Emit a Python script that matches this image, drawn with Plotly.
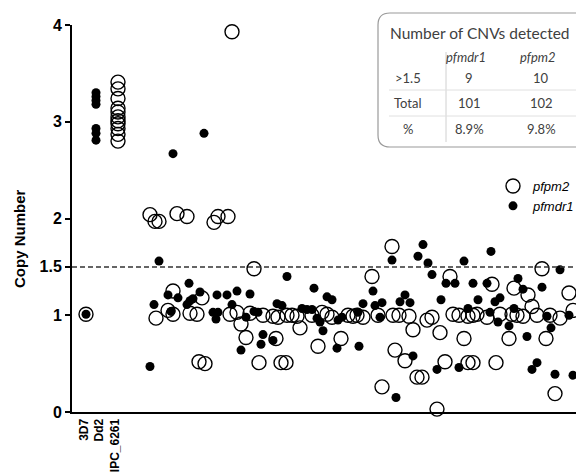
import plotly.graph_objects as go

# ---- data ----
categories = ["3D7", "Dd2", "IPC_6261"]
category_pos = [12, 27, 43]

# control samples
ctrl_pfpm2_x = [14] + [46] * 11
ctrl_pfpm2_y = [1.01, 3.41, 3.34, 3.24, 3.14, 3.10, 3.05, 3.01, 2.98, 2.93, 2.87, 2.80]
ctrl_pfmdr1_x = [14] + [24] * 7
ctrl_pfmdr1_y = [1.01, 3.30, 3.26, 3.22, 3.18, 2.93, 2.88, 2.81]

# field samples (sample position, copy number)
field_pfpm2_x = [160, 78, 83, 87, 105, 115, 142, 146, 156, 182, 101, 130, 96, 84, 101, 118, 125, 158,
                 165, 169, 174, 127, 133, 178, 191, 201, 206, 204, 187, 209, 214, 215, 220, 225, 240,
                 250, 255, 260, 276, 281, 285, 228, 269, 246, 291, 300, 306, 320, 321, 327, 337, 341,
                 323, 333, 345, 350, 310, 365, 355, 360, 368, 373, 378, 381, 387, 392, 396, 401, 396,
                 401, 405, 415, 428, 440, 445, 451, 465, 478, 488, 420, 424, 437, 442, 456, 460, 470,
                 474, 483, 497, 501]
field_pfpm2_y = [3.93, 2.04, 1.97, 1.97, 2.05, 2.02, 1.96, 2.02, 2.02, 1.48, 1.25, 1.18, 1.05, 0.97, 1.01,
                 1.02, 1.01, 1.01, 1.03, 0.91, 0.77, 0.52, 0.50, 1.02, 1.00, 0.99, 0.98, 0.76, 0.51, 0.51,
                 0.51, 1.00, 1.00, 0.99, 1.00, 1.03, 1.01, 0.98, 1.00, 0.99, 1.00, 0.87, 0.76, 0.68, 0.98,
                 1.40, 1.00, 1.71, 1.00, 1.00, 0.99, 0.85, 0.64, 0.53, 0.36, 0.36, 0.26, 0.03, 0.95, 0.98,
                 0.82, 0.52, 1.40, 1.01, 1.00, 0.76, 0.51, 0.51, 0.99, 1.00, 1.01, 0.98, 1.01, 1.01, 1.00,
                 0.99, 1.00, 1.00, 0.97, 1.32, 0.51, 0.76, 1.28, 1.21, 1.09, 1.48, 0.76, 0.19, 1.23, 1.05]

field_pfmdr1_x = [132, 101, 87, 117, 96, 106, 128, 121, 118, 145, 155, 165, 178, 82, 115, 160, 99, 141,
                  146, 144, 174, 169, 78, 191, 189, 201, 182, 186, 205, 210, 215, 242, 255, 260, 230, 235,
                  240, 245, 248, 266, 270, 286, 251, 265, 287, 291, 301, 303, 310, 308, 320, 346, 351, 356,
                  360, 392, 374, 383, 333, 328, 338, 369, 396, 341, 365, 387, 324, 401, 419, 415, 446, 451,
                  470, 488, 406, 423, 428, 418, 442, 497, 475, 426, 437, 479, 455, 465, 460, 483, 501]
field_pfmdr1_y = [2.88, 2.67, 1.56, 1.33, 1.21, 1.18, 1.24, 1.17, 1.15, 1.21, 1.21, 1.25, 1.22, 1.11, 1.11,
                  1.11, 1.04, 1.03, 1.03, 0.96, 0.98, 0.64, 0.47, 0.80, 0.70, 0.74, 1.04, 1.03, 1.12, 1.10,
                  1.40, 1.28, 1.19, 1.16, 1.07, 1.06, 1.06, 0.97, 0.93, 0.95, 0.98, 1.03, 0.84, 0.66, 0.68,
                  1.12, 1.25, 1.10, 1.13, 0.98, 1.57, 1.61, 1.73, 1.54, 1.42, 1.56, 1.33, 1.33, 1.21, 1.14,
                  1.13, 1.16, 1.07, 0.58, 0.44, 0.46, 0.15, 1.33, 1.66, 1.33, 1.38, 1.27, 1.29, 1.47, 1.16,
                  1.14, 1.18, 1.03, 1.07, 1.00, 0.99, 0.93, 0.89, 0.87, 0.78, 0.51, 0.44, 0.39, 0.38]

threshold = 1.5
y_ticks = [0, 1, 1.5, 2, 3, 4]

table_genes = ["pfmdr1", "pfpm2"]
table_rows = [">1.5", "Total", "%"]
table_values = [["9", "10"], ["101", "102"], ["8.9%", "9.8%"]]

# ---- layout geometry ----
W, H = 576, 473
ML, MR, MT, MB = 72, 0, 25, 61
PW, PH = W - ML - MR, H - MT - MB


def px(x):
    return (x - ML) / PW


def py(y):
    return (H - MB - y) / PH


fig = go.Figure()
fig.add_trace(go.Scatter(
    x=ctrl_pfpm2_x + field_pfpm2_x, y=ctrl_pfpm2_y + field_pfpm2_y, mode="markers", name="pfpm2",
    marker=dict(symbol="circle-open", size=14, color="black", line=dict(width=1.4, color="black")),
    cliponaxis=False))
fig.add_trace(go.Scatter(
    x=ctrl_pfmdr1_x + field_pfmdr1_x, y=ctrl_pfmdr1_y + field_pfmdr1_y, mode="markers", name="pfmdr1",
    marker=dict(symbol="circle", size=9, color="black"), cliponaxis=False))

shapes = [dict(type="line", xref="paper", yref="y", x0=0, x1=1, y0=threshold, y1=threshold,
               line=dict(color="#333", width=1.5, dash="5px,3px"))]

# table box with rounded left corners
r = 12
x0, x1, y0, y1 = 378, 640, 13, 147
path = (f"M {px(x1)},{py(y0)} L {px(x0 + r)},{py(y0)} Q {px(x0)},{py(y0)} {px(x0)},{py(y0 + r)} "
        f"L {px(x0)},{py(y1 - r)} Q {px(x0)},{py(y1)} {px(x0 + r)},{py(y1)} L {px(x1)},{py(y1)}")
shapes.append(dict(type="path", xref="paper", yref="paper", path=path,
                   line=dict(color="#9a9a9a", width=1.2)))
shapes.append(dict(type="line", xref="paper", yref="paper", x0=px(446), x1=px(446), y0=py(52), y1=py(142),
                   line=dict(color="#d0d0d0", width=1)))
for yy in (90, 116):
    shapes.append(dict(type="line", xref="paper", yref="paper", x0=px(389), x1=px(640), y0=py(yy), y1=py(yy),
                       line=dict(color="#e0e0e0", width=1)))

tfont = dict(family="Lato", color="#404040")
ann = [dict(text="Copy Number", textangle=-90, xref="paper", yref="paper", x=px(20), y=py(239),
            xanchor="center", yanchor="middle", showarrow=False,
            font=dict(family="Liberation Sans", size=15, weight="bold", color="black"))]
ann.append(dict(text="Number of CNVs detected", xref="paper", yref="paper", x=px(388), y=py(33),
                xanchor="left", yanchor="middle", showarrow=False, font=dict(size=15.5, **tfont)))
col_x = [466, 538]
for g, cx in zip(table_genes, col_x):
    ann.append(dict(text=f"<i>{g}</i>", xref="paper", yref="paper", x=px(cx), y=py(57), showarrow=False,
                    xanchor="center", yanchor="middle", font=dict(size=13, **tfont)))
row_y = [78, 103, 129]
for lab, ry, vals in zip(table_rows, row_y, table_values):
    ann.append(dict(text=lab, xref="paper", yref="paper", x=px(408), y=py(ry), showarrow=False,
                    xanchor="center", yanchor="middle", font=dict(size=13, **tfont)))
    for v, cx in zip(vals, col_x):
        ann.append(dict(text=v, xref="paper", yref="paper", x=px(cx + 3), y=py(ry), showarrow=False,
                        xanchor="center", yanchor="middle", font=dict(size=13, **tfont)))

fig.update_layout(
    width=W, height=H, margin=dict(l=ML, r=MR, t=MT, b=MB, autoexpand=False),
    paper_bgcolor="white", plot_bgcolor="white",
    shapes=shapes, annotations=ann,
    showlegend=True,
    legend=dict(x=px(493), y=py(171), xanchor="left", yanchor="top", bgcolor="rgba(0,0,0,0)",
                font=dict(family="Liberation Sans", size=13, style="italic", color="black"),
                tracegroupgap=0, itemwidth=30),
    xaxis=dict(range=[0, PW], showgrid=False, zeroline=False, showline=True, linecolor="black",
               linewidth=2, tickvals=category_pos, ticktext=categories, tickangle=-90, ticks="",
               tickfont=dict(family="Liberation Sans", size=12, weight="bold", color="black")),
    yaxis=dict(range=[0, 4], showgrid=False, zeroline=False, showline=True, linecolor="black",
               linewidth=2, tickvals=y_ticks, ticktext=[str(t) for t in y_ticks], ticks="outside",
               ticklen=5, tickwidth=2, tickcolor="black",
               tickfont=dict(family="Liberation Sans", size=16, weight="bold", color="black")),
)

fig.write_html("out.html", config={"displayModeBar": False},
               post_script="document.body.style.margin='0';document.body.style.overflow='hidden';")
